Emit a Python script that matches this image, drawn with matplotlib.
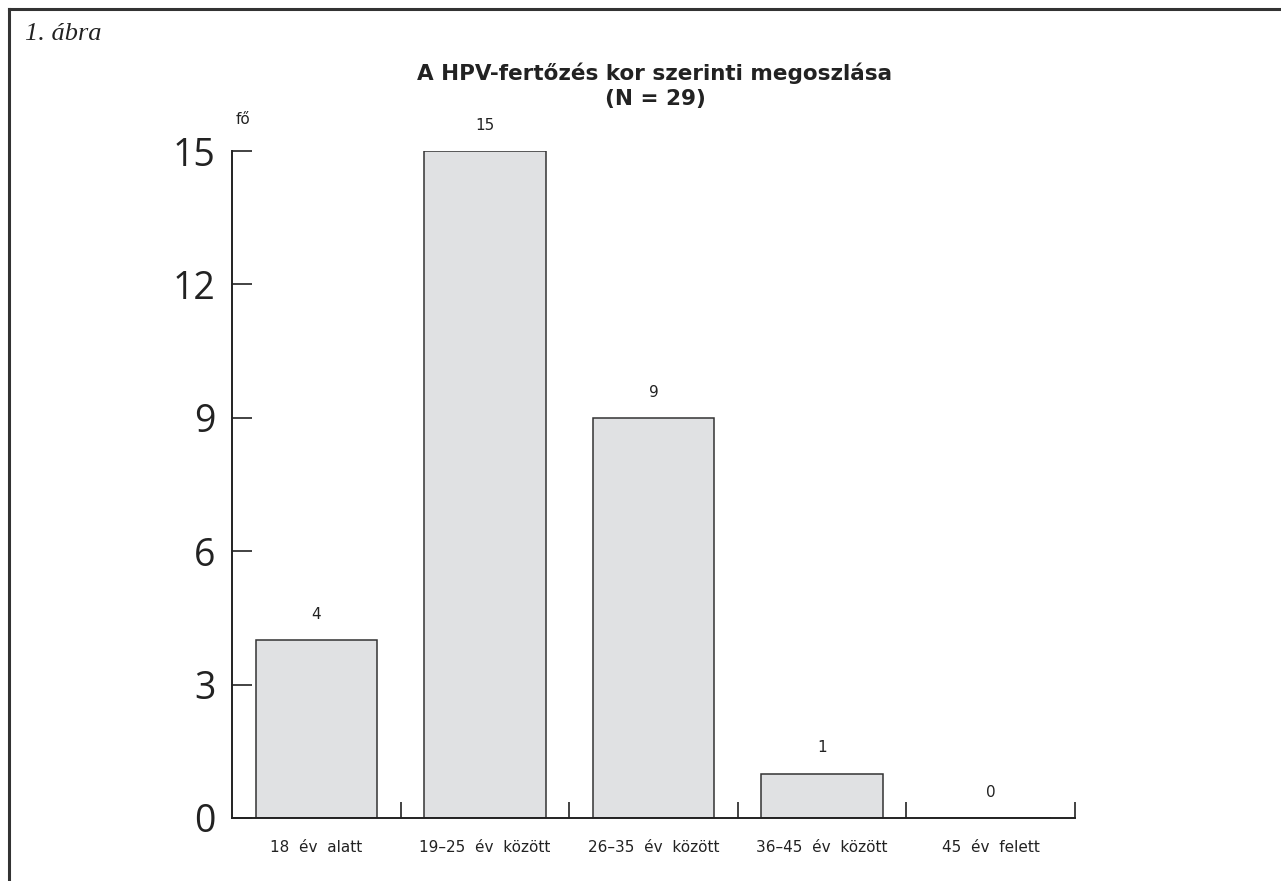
import matplotlib.pyplot as plt
from matplotlib.lines import Line2D

# adatok
categories = ['18  év  alatt', '19–25  év  között', '26–35  év  között',
              '36–45  év  között', '45  év  felett']
values = [4, 15, 9, 1, 0]
yticks = [0, 3, 6, 9, 12, 15]

W, H = 1281, 881
fig = plt.figure(figsize=(W / 100, H / 100), dpi=100)

# keret (felső és bal vonal)
fig.add_artist(Line2D([9 / W, 1], [1 - 9 / H, 1 - 9 / H], color='#333333', lw=2.2))
fig.add_artist(Line2D([9 / W, 9 / W], [0, 1 - 9 / H], color='#333333', lw=2.2))

ax = fig.add_axes([232 / W, (H - 818) / H, (1075 - 232) / W, (818 - 151) / H])

xs = [i + 0.5 for i in range(len(values))]
ax.bar(xs, values, width=0.72, color='#e0e1e3', edgecolor='#333333', linewidth=1.1)

for x, v in zip(xs, values):
    ax.annotate(str(v), (x, v), xytext=(0, 13), textcoords='offset points',
                ha='center', va='bottom', fontsize=11, color='#222222',
                family='DejaVu Sans')

ax.set_xlim(0, 5)
ax.set_ylim(0, 15)
ax.spines['top'].set_visible(False)
ax.spines['right'].set_visible(False)
for s in ('left', 'bottom'):
    ax.spines[s].set_color('#222222')
    ax.spines[s].set_linewidth(1.4)

ax.set_yticks(yticks)
ax.set_yticklabels([str(t) for t in yticks], fontsize=27, color='#222222',
                   family='Open Sans')
ax.tick_params(axis='y', direction='in', length=14.5, width=1.2, pad=12,
               color='#222222')

# kategóriahatárok jelölése
ax.set_xticks([1, 2, 3, 4, 5])
ax.set_xticklabels([])
ax.tick_params(axis='x', direction='in', length=11.5, width=1.2, color='#222222')
for x, lab in zip(xs, categories):
    ax.text(x, -0.5, lab, ha='center', va='top', fontsize=11, color='#222222',
            family='DejaVu Sans')

ax.text(0.02, 15.55, 'fő', ha='left', va='bottom', fontsize=11, color='#222222',
        family='DejaVu Sans', transform=ax.transData)

fig.text(655 / W, 1 - 86 / H, 'A HPV-fertőzés kor szerinti megoszlása\n(N = 29)',
         ha='center', va='center', fontsize=15.5, fontweight='bold',
         linespacing=1.3, color='#222222', family='DejaVu Sans')

fig.text(25 / W, 1 - 34 / H, '1. ábra', ha='left', va='center', fontsize=19,
         style='italic', family='Liberation Serif', color='#222222')

fig.savefig('out.png', dpi=100)
